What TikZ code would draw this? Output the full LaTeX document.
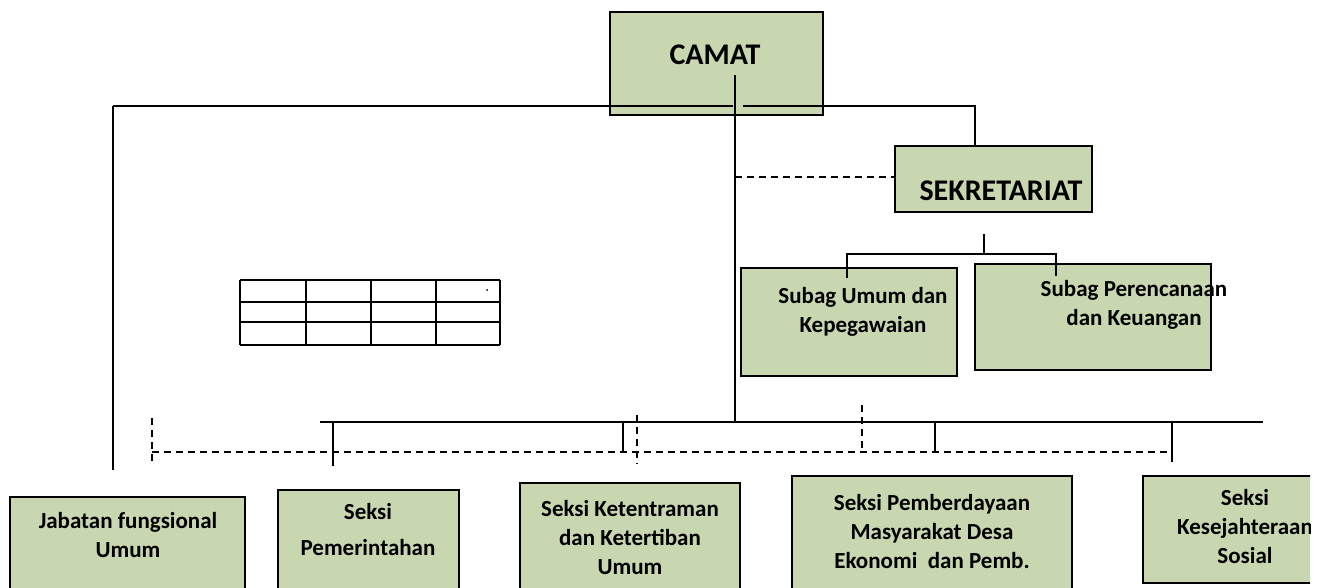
\documentclass[tikz,border=0pt]{standalone}
\usepackage{fontspec}
\setmainfont{Carlito}
\definecolor{sage}{RGB}{200,215,176}
\begin{document}
\begin{tikzpicture}[x=1pt,y=-1pt,
  box/.style={draw=black,line width=2.6pt,fill=sage,inner sep=0pt},
  lbl/.style={font=\bfseries\fontsize{23}{29}\selectfont,align=center,inner sep=0pt},
  conn/.style={line width=2.2pt},
  dconn/.style={line width=2.2pt,dash pattern=on 7pt off 5pt},
  grid/.style={line width=2.6pt}]
\useasboundingbox (0,0) rectangle (1325,588);
% boxes
\node[box,minimum width=213pt,minimum height=103pt] (camat) at (716.5,63.5) {};
\node[lbl,font=\bfseries\fontsize{30}{34}\selectfont] (camatT) at (715,55) {CAMAT};
\node[box,minimum width=197pt,minimum height=66pt] (sek) at (993.5,179) {};
\node[lbl,font=\bfseries\fontsize{30}{34}\selectfont] (sekT) at (1001,191) {SEKRETARIAT};
\node[box,minimum width=216pt,minimum height=108pt] (su) at (849,322) {};
\node[lbl] (suT) at (863,312) {Subag Umum dan\\Kepegawaian};
\node[box,minimum width=236pt,minimum height=106pt] (sp) at (1093,317) {};
\node[lbl] (spT) at (1134,305) {Subag Perencanaan\\dan Keuangan};
\node[box,minimum width=235pt,minimum height=100pt] (jf) at (127.5,547) {};
\node[lbl] (jfT) at (128,535) {Jabatan fungsional\\Umum};
\node[box,minimum width=181pt,minimum height=106pt] (pem) at (368.5,543) {};
\node[lbl,font=\bfseries\fontsize{23}{36}\selectfont] (pemT) at (368,530) {Seksi\\Pemerintahan};
\node[box,minimum width=220pt,minimum height=114pt] (kt) at (630,540) {};
\node[lbl] (ktT) at (630,538) {Seksi Ketentraman\\dan Ketertiban\\Umum};
\node[box,minimum width=280pt,minimum height=122pt] (pm) at (932,537) {};
\node[lbl] (pmT) at (932,532) {Seksi Pemberdayaan\\Masyarakat Desa\\Ekonomi\ \ dan Pemb.};
\begin{scope}
\clip (0,0) rectangle (1310,588);
\node[box,minimum width=200pt,minimum height=107pt] (ks) at (1243,529.5) {};
\node[lbl] (ksT) at (1245,527) {Seksi\\Kesejahteraan\\Sosial};
\end{scope}
% table
\foreach \yy in {280,302,322,345} \draw[grid] (240,\yy) -- (500,\yy);
\foreach \xx in {240,306,371,436,500} \draw[grid] (\xx,280) -- (\xx,345);
\fill (487,290) circle (1pt);
% coordinates
\coordinate (ctop) at (735,75);
\coordinate (cbot) at (735,422);
\coordinate (hl) at (113,106);
\coordinate (hm1) at (733,106);
\coordinate (hm2) at (743,106);
\coordinate (hr) at (975,106);
\coordinate (lb) at (113,470);
\coordinate (dsek) at (735,177);
\coordinate (s1) at (984,234);
\coordinate (s2) at (984,254);
\coordinate (sl) at (847,254);
\coordinate (sr) at (1056,254);
\coordinate (sld) at (847,278);
\coordinate (srd) at (1056,276);
\coordinate (ml) at (320,422);
\coordinate (mr) at (1263,422);
\coordinate (dl) at (152,452);
\coordinate (dr) at (1172,452);
% upper connectors
\draw[conn] (ctop) -- (cbot);
\draw[conn] (hl) -- (hm1);
\draw[conn] (hm2) -- (hr) -- (sek.north -| hr);
\draw[conn] (hl) -- (lb);
\draw[dconn] (dsek) -- (sek.west |- dsek);
\draw[conn] (s1) -- (s2);
\draw[conn] (sld) -- (sl) -- (sr) -- (srd);
% lower connectors
\draw[conn] (ml) -- (mr);
\draw[dconn] (dl) -- (dr);
\draw[conn] (333,422) -- (333,466);
\draw[conn] (623,422) -- (623,452);
\draw[conn] (935,422) -- (935,452);
\draw[conn] (1172,422) -- (1172,462);
\draw[dconn] (152,418) -- (152,466);
\draw[dconn] (637,415) -- (637,464);
\draw[dconn] (862,405) -- (862,448);
\end{tikzpicture}
\end{document}
